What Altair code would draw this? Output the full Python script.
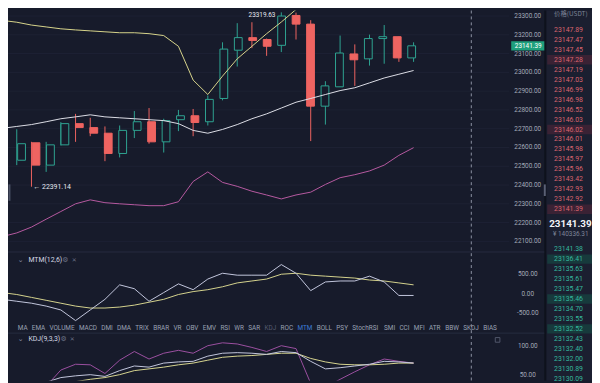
import altair as alt
import pandas as pd

# ------------------------------------------------------------------ data
candle_i = list(range(28))
opens  = [22532, 22625, 22506, 22614, 22727, 22706, 22676, 22568, 22691, 22737,
          22630, 22748, 22769, 22737, 22861, 23118, 23185, 23175, 23144, 23303,
          23257, 22820, 22923, 23098, 23072, 23180, 23190, 23077]
closes = [22620, 22506, 22614, 22727, 22706, 22676, 22568, 22691, 22737, 22630,
          22743, 22769, 22733, 22856, 23124, 23185, 23170, 23139, 23300, 23257,
          22820, 22928, 23103, 23067, 23180, 23190, 23077, 23141.39]
highs  = [22697, 22630, 22630, 22735, 22779, 22758, 22712, 22717, 22794, 22810,
          22753, 22800, 22805, 22877, 23160, 23262, 23267, 23180, 23319.63, 23318,
          23278, 22953, 23196, 23149, 23201, 23252, 23190, 23160]
lows   = [22506, 22391.14, 22470, 22610, 22630, 22660, 22527, 22547, 22650, 22620,
          22573, 22687, 22660, 22717, 22851, 23031, 23129, 23088, 23108, 23175,
          22634, 22722, 22923, 22928, 23036, 23046, 23056, 23056]

line_i   = list(range(-1, 28))
boll_up  = [23277, 23267, 23252, 23242, 23232, 23226, 23221, 23216, 23211, 23211,
            23206, 23196, 23139, 22959, 22882, 22980, 23072, 23139, 23206, 23268,
            23335, 23360, 23361, 23367, 23381, 23413, 23434, 23422, 23421]
boll_mid = [22702, 22712, 22722, 22737, 22753, 22763, 22774, 22763, 22758, 22753,
            22748, 22743, 22727, 22691, 22676, 22696, 22722, 22753, 22779, 22810,
            22841, 22861, 22882, 22903, 22918, 22944, 22970, 22990, 23010]
boll_low = [22125, 22145, 22176, 22218, 22259, 22300, 22321, 22306, 22300, 22295,
            22290, 22290, 22311, 22419, 22470, 22414, 22393, 22367, 22347, 22326,
            22347, 22362, 22403, 22439, 22455, 22475, 22506, 22558, 22599]
mtm      = [-150, -200, -250, -325, -425, -700, -425, -150, 225, 125,
            -200, 25, 250, 100, 375, 525, 475, 475, 475, 750,
            525, 75, 300, 325, 325, 450, 300, -50, -50]
mtm_ma   = [25, -25, -100, -175, -250, -325, -375, -375, -350, -300,
            -225, -150, -25, 50, 100, 175, 275, 325, 375, 500,
            525, 475, 450, 425, 400, 350, 325, 275, 225]
kdj_k    = [15, 20, 28, 37, 45, 48, 50, 47, 57, 65, 63, 70, 72, 73, 82,
            87, 88, 87, 85, 90, 88, 73, 60, 62, 65, 68, 73, 72, 70]
kdj_d    = [22, 25, 27, 30, 33, 38, 42, 45, 50, 57, 60, 63, 67, 70, 75,
            80, 82, 83, 85, 87, 87, 78, 72, 68, 67, 67, 68, 70, 70]
kdj_j    = [5, 10, 20, 30, 58, 68, 67, 52, 75, 90, 77, 87, 92, 87, 100,
            105, 103, 97, 90, 100, 95, 35, 28, 42, 55, 67, 77, 73, 70]

price_ticks = [23300, 23200, 23100, 23000, 22900, 22800, 22700, 22600,
               22500, 22400, 22300, 22200, 22100]
mtm_ticks = [500, 0, -500]
kdj_ticks = [100, 50]
last_price = 23141.39
low_mark = 22391.14
high_mark = 23319.63

asks = ["23147.89", "23147.47", "23147.45", "23147.28", "23147.19", "23147.03",
        "23146.99", "23146.98", "23146.52", "23146.03", "23146.02", "23146.01",
        "23145.98", "23145.97", "23145.96", "23143.42", "23142.93", "23142.92",
        "23141.39"]
bids = ["23141.38", "23136.41", "23135.63", "23135.61", "23135.47", "23135.46",
        "23134.70", "23133.55", "23132.52", "23132.43", "23132.40", "23132.00",
        "23130.89", "23130.09"]
ask_hot = [3, 10, 18]
bid_hot = [1, 5, 8]
cny_text = "¥ 140336.31"

tabs = ["MA", "EMA", "VOLUME", "MACD", "DMI", "DMA", "TRIX", "BRAR", "VR", "OBV",
        "EMV", "RSI", "WR", "SAR", "KDJ", "ROC", "MTM", "BOLL", "PSY", "StochRSI",
        "SMI", "CCI", "MFI", "ATR", "BBW", "SKDJ", "BIAS"]

# ------------------------------------------------------------------ layout
W, H = 592, 375
sx, sy = W / 600, H / 383
def PX(v): return v * sx
def PY(v): return v * sy

BG = "#171b2b"
OB_BG = "#1b1f30"
GREEN = "#2fa592"
RED = "#ef6461"
FONT = "Roboto"
one = pd.DataFrame({"a": [0]})

xscale = alt.Scale(domain=[(0 - 9) / 15.1, (600 - 9) / 15.1], nice=False, zero=False)
def X(f): return alt.X(f"{f}:Q", scale=xscale, axis=None)

main_sc = alt.Scale(domain=[22043.3, 23329.3], range=[PY(250), PY(0)], nice=False, zero=False)
mtm_sc = alt.Scale(domain=[-725, 1025], range=[PY(322), PY(252)], nice=False, zero=False)
kdj_sc = alt.Scale(domain=[40, 120], range=[PY(383), PY(335)], nice=False, zero=False)
ob_sc = alt.Scale(domain=[0, 35], range=[PY(20), PY(20 + 10.32 * 35)], nice=False, zero=False)

def Y(f, sc): return alt.Y(f"{f}:Q", scale=sc, axis=None)

def txt(**kw):
    base = dict(font=FONT, baseline="middle")
    base.update(kw)
    return base

layers = []

# order book background & separators
layers.append(alt.Chart(one).mark_rect(color=OB_BG).encode(
    x=alt.value(PX(553)), x2=alt.value(W), y=alt.value(0), y2=alt.value(H)))
layers.append(alt.Chart(one).mark_rule(color="#0e111c", strokeWidth=2).encode(
    x=alt.value(PX(552)), y=alt.value(0), y2=alt.value(H)))
for yy in (250, 334):
    layers.append(alt.Chart(one).mark_rule(color="#272c40", strokeWidth=1).encode(
        y=alt.value(PY(yy)), x=alt.value(0), x2=alt.value(PX(551))))

# faint price grid
pdf = pd.DataFrame({"p": price_ticks, "lab": [f"{p:.2f}" for p in price_ticks]})
layers.append(alt.Chart(pdf).mark_rule(color="#1d2234", strokeWidth=1).encode(
    y=Y("p", main_sc), x=alt.value(0), x2=alt.value(PX(515))))

# candles
cdf = pd.DataFrame({"i": candle_i, "open": opens, "close": closes, "high": highs, "low": lows})
cdf["dir"] = ["up" if c >= o else "down" for o, c in zip(opens, closes)]
stroke_sc = alt.Scale(domain=["up", "down"], range=[GREEN, RED])
layers.append(alt.Chart(cdf).mark_rule(strokeWidth=1).encode(
    x=X("i"), y=Y("low", main_sc), y2="high:Q",
    stroke=alt.Stroke("dir:N", scale=stroke_sc, legend=None)))
layers.append(alt.Chart(cdf).mark_bar(size=PX(8), strokeWidth=1).encode(
    x=X("i"), y=Y("open", main_sc), y2="close:Q",
    fill=alt.Fill("dir:N", scale=alt.Scale(domain=["up", "down"], range=[BG, RED]), legend=None),
    stroke=alt.Stroke("dir:N", scale=stroke_sc, legend=None)))

# indicator lines
ldf = pd.DataFrame({"i": line_i, "up": boll_up, "mid": boll_mid, "low": boll_low,
                    "mtm": mtm, "mtmma": mtm_ma, "k": kdj_k, "d": kdj_d, "j": kdj_j})
def line(field, sc, color, w=1):
    return alt.Chart(ldf).mark_line(color=color, strokeWidth=w, clip=True).encode(
        x=X("i"), y=Y(field, sc))
layers += [line("up", main_sc, "#d9d68c"), line("mid", main_sc, "#dedfe8"),
           line("low", main_sc, "#b85aa2"),
           line("mtmma", mtm_sc, "#d6d48e"), line("mtm", mtm_sc, "#c4c8de"),
           line("j", kdj_sc, "#9c50a2"), line("d", kdj_sc, "#d8d690"), line("k", kdj_sc, "#c4c8de")]

# low / high annotations
layers.append(alt.Chart(pd.DataFrame({"i": [1], "p": [low_mark], "t": [f"← {low_mark:.2f}"]}))
              .mark_text(**txt(align="left", dx=PX(2), fontSize=7, color="#e6e8f0"))
              .encode(x=X("i"), y=Y("p", main_sc), text="t:N"))
layers.append(alt.Chart(pd.DataFrame({"i": [18], "p": [high_mark], "t": [f"{high_mark:.2f}"]}))
              .mark_text(**txt(align="right", baseline="top", dx=PX(-6), dy=0, fontSize=6.5, color="#e6e8f0"))
              .encode(x=X("i"), y=Y("p", main_sc), text="t:N"))

# price axis labels + last price tag
layers.append(alt.Chart(pdf).mark_text(**txt(align="center", fontSize=6.5, color="#a3a9b8")).encode(
    x=alt.value(PX(534)), y=Y("p", main_sc), text="lab:N"))
lp = pd.DataFrame({"p": [last_price], "lo": [last_price - 24.5], "hi": [last_price + 24.5],
                   "t": [f"{last_price:.2f}"]})
layers.append(alt.Chart(lp).mark_rect(color="#1f9f7c").encode(
    x=alt.value(PX(517)), x2=alt.value(PX(551)), y=Y("lo", main_sc), y2="hi:Q"))
layers.append(alt.Chart(lp).mark_text(**txt(align="center", fontSize=6.5, color="#ffffff")).encode(
    x=alt.value(PX(534.5)), y=Y("p", main_sc), text="t:N"))

# MTM panel
mdf = pd.DataFrame({"v": mtm_ticks, "t": [f"{v:.2f}" for v in mtm_ticks]})
layers.append(alt.Chart(mdf).mark_text(**txt(align="center", fontSize=6.5, color="#a3a9b8")).encode(
    x=alt.value(PX(534)), y=Y("v", mtm_sc), text="t:N"))
def panel_label(label, yref, name_x, gear_x, x_x):
    out = []
    out.append(alt.Chart(one).mark_text(**txt(align="center", fontSize=7, color="#8a90a3", font="DejaVu Sans"))
               .encode(x=alt.value(PX(13)), y=alt.value(PY(yref)), text=alt.value("⌄")))
    out.append(alt.Chart(one).mark_text(**txt(align="left", fontSize=7, color="#d6d9e4"))
               .encode(x=alt.value(PX(name_x)), y=alt.value(PY(yref)), text=alt.value(label)))
    out.append(alt.Chart(one).mark_text(**txt(align="center", fontSize=7, color="#6b7186", font="DejaVu Sans"))
               .encode(x=alt.value(PX(gear_x)), y=alt.value(PY(yref)), text=alt.value("⚙")))
    out.append(alt.Chart(one).mark_text(**txt(align="center", fontSize=6, color="#6b7186", font="DejaVu Sans"))
               .encode(x=alt.value(PX(x_x)), y=alt.value(PY(yref)), text=alt.value("✕")))
    return out
layers += panel_label("MTM(12,6)", 258, 21, 59, 68)
layers += panel_label("KDJ(9,3,3)", 340, 21, 57, 66)

# KDJ axis
kdf = pd.DataFrame({"v": kdj_ticks, "t": [f"{v:.2f}" for v in kdj_ticks]})
layers.append(alt.Chart(kdf).mark_text(**txt(align="center", fontSize=6.5, color="#a3a9b8")).encode(
    x=alt.value(PX(534)), y=Y("v", kdj_sc), text="t:N"))
layers.append(alt.Chart(one).mark_point(shape="square", size=22, filled=False, color="#6b7186",
                                        strokeWidth=1).encode(
    x=alt.value(PX(503)), y=alt.value(PY(341))))

# indicator tab row (word starts computed from approximate glyph widths)
EM = {"M": 0.86, "W": 0.89, "I": 0.27, "J": 0.55, "L": 0.54, "E": 0.57, "F": 0.55,
      "S": 0.59, "O": 0.69, "C": 0.65, "D": 0.66, "A": 0.65, "V": 0.64, "U": 0.65,
      "T": 0.61, "R": 0.62, "X": 0.63, "B": 0.62, "K": 0.63, "P": 0.63, "Y": 0.6,
      "H": 0.71, "o": 0.57, "c": 0.52, "h": 0.55}
tab_fs = 6.5
widths = [sum(EM.get(c, 0.6) for c in w) * tab_fs for w in tabs]
gap = (492 - sum(widths)) / (len(tabs) - 1)
starts, cur = [], 10.0
for wdt in widths:
    starts.append(cur)
    cur += wdt + gap
tdf = pd.DataFrame({"w": tabs, "xs": [PX(s) for s in starts],
                    "state": ["on" if w == "MTM" else ("off" if w == "KDJ" else "n") for w in tabs]})
layers.append(alt.Chart(tdf).mark_text(**txt(align="left", fontSize=tab_fs)).encode(
    x=alt.X("xs:Q", scale=alt.Scale(domain=[0, W], range=[0, W], nice=False, zero=False), axis=None),
    y=alt.value(PY(329)), text="w:N",
    color=alt.Color("state:N", scale=alt.Scale(domain=["n", "on", "off"],
                                                range=["#9aa1b3", "#3d7bd9", "#565c70"]), legend=None)))

# crosshair and scroll handles
layers.append(alt.Chart(one).mark_rule(color="#8c92a4", strokeWidth=1, strokeDash=[3, 3]).encode(
    x=alt.value(PX(476)), y=alt.value(0), y2=alt.value(H)))
layers.append(alt.Chart(one).mark_rule(color="#4a5064", strokeWidth=2).encode(
    x=alt.value(PX(1.5)), y=alt.value(PY(180)), y2=alt.value(PY(197))))
layers.append(alt.Chart(one).mark_rule(color="#5a6074", strokeWidth=2).encode(
    x=alt.value(PX(551.5)), y=alt.value(PY(180)), y2=alt.value(PY(192))))

# order book
rows = [r for r in range(len(asks))] + [22 + r for r in range(len(bids))]
bdf = pd.DataFrame({"r": rows, "t": asks + bids, "side": ["ask"] * len(asks) + ["bid"] * len(bids)})
hot_rows = ask_hot + [22 + r for r in bid_hot]
hdf = pd.DataFrame({"lo": [r - 0.47 for r in hot_rows], "hi": [r + 0.47 for r in hot_rows],
                    "side": ["ask"] * len(ask_hot) + ["bid"] * len(bid_hot)})
layers.append(alt.Chart(hdf).mark_rect().encode(
    x=alt.value(PX(554)), x2=alt.value(W), y=Y("lo", ob_sc), y2="hi:Q",
    fill=alt.Fill("side:N", scale=alt.Scale(domain=["ask", "bid"], range=["#3a2234", "#173a3c"]), legend=None)))
layers.append(alt.Chart(bdf).mark_text(**txt(align="left", fontSize=7)).encode(
    x=alt.value(PX(561)), y=Y("r", ob_sc), text="t:N",
    fill=alt.Fill("side:N", scale=alt.Scale(domain=["ask", "bid"], range=["#d9646e", "#35b89c"]), legend=None)))
layers.append(alt.Chart(pd.DataFrame({"r": [-1.55], "t": ["价格(USDT)"]})).mark_text(
    **txt(align="left", fontSize=6.5, color="#7d8497", font="Noto Sans CJK SC")).encode(
    x=alt.value(PX(561)), y=Y("r", ob_sc), text="t:N"))
layers.append(alt.Chart(pd.DataFrame({"r": [19.45], "t": [f"{last_price:.2f}"]})).mark_text(
    **txt(align="left", fontSize=10, fontWeight="bold", color="#f2f3f7")).encode(
    x=alt.value(PX(556)), y=Y("r", ob_sc), text="t:N"))
layers.append(alt.Chart(pd.DataFrame({"r": [20.5], "t": [cny_text]})).mark_text(
    **txt(align="left", fontSize=6.5, color="#7d8497")).encode(
    x=alt.value(PX(560)), y=Y("r", ob_sc), text="t:N"))

chart = (alt.layer(*layers)
         .resolve_scale(y="independent", x="independent", color="independent",
                        fill="independent", stroke="independent")
         .properties(width=W, height=H, padding=0, background=BG,
                     autosize=alt.AutoSizeParams(type="none"))
         .configure_view(stroke=None))

chart.save("out.html", embed_options={"renderer": "svg", "actions": False})
